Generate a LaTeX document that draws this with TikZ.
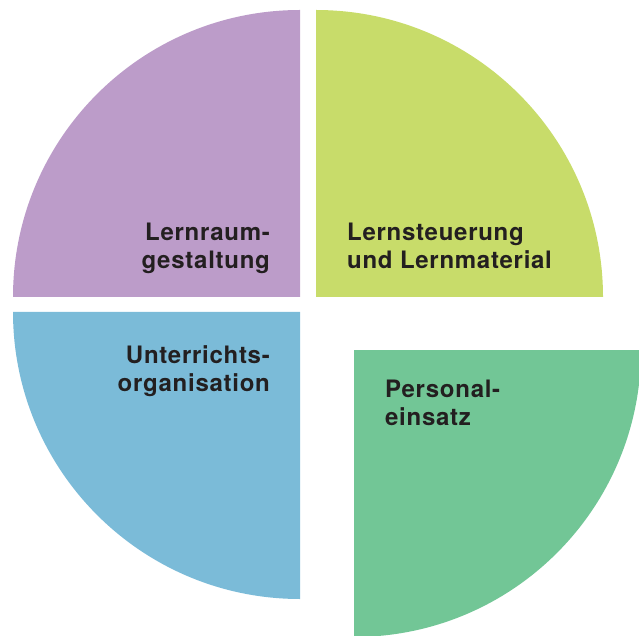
\documentclass[tikz,border=0pt]{standalone}
\usepackage{fontspec}
\setmainfont{TeX Gyre Heros}[LetterSpace=3]
\usepackage{xcolor}
\usepackage{tikz}
\usetikzlibrary{positioning}
\definecolor{lilac}{HTML}{BC9CC9}
\definecolor{limec}{HTML}{C8DC6A}
\definecolor{skyc}{HTML}{7BBBD8}
\definecolor{mintc}{HTML}{72C696}
\definecolor{inkc}{HTML}{231F20}
\tikzset{
  lab/.style={inkc,font=\fontsize{24}{28}\selectfont\bfseries,inner sep=0pt}
}

\begin{document}
\begin{tikzpicture}[x=1pt,y=1pt]
\useasboundingbox (0,0) rectangle (639,635);
\clip (0,0) rectangle (639,635);
% four quarters, the lower right one pulled out
\fill[lilac] (300,338) -- ++(-287,0) arc[start angle=180,end angle=90,radius=287] -- cycle;
\fill[limec] (316,338) -- ++(0,287) arc[start angle=90,end angle=0,radius=287] -- cycle;
\fill[skyc] (300,323) -- ++(0,-287) arc[start angle=270,end angle=180,radius=287] -- cycle;
\fill[mintc] (354,285) -- ++(287,0) arc[start angle=0,end angle=-90,radius=287] -- cycle;
% labels
\node[lab,anchor=north east,align=right] (raum) at (270,412) {Lernraum-\\gestaltung};
\node[lab,anchor=north west,align=left] (steuer) at (347,412) {Lernsteuerung\\und Lernmaterial};
\node[lab,anchor=north east,align=right] (orga) at (270,290) {Unterrichts-\\organisation};
\node[lab,anchor=north west,align=left] (perso) at (385,255) {Personal-\\einsatz};
\end{tikzpicture}
\end{document}
